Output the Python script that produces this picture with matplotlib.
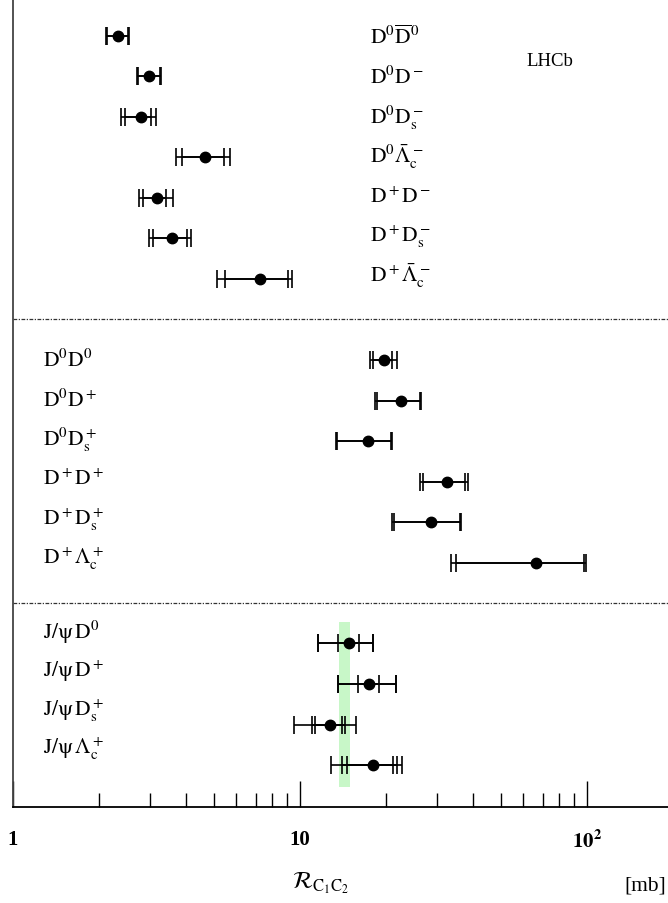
import matplotlib
matplotlib.use("Agg")
import matplotlib.pyplot as plt
import matplotlib.transforms as mtransforms
import numpy as np

plt.rcParams['font.family'] = ['Liberation Serif', 'DejaVu Serif']
plt.rcParams['mathtext.fontset'] = 'stix'

# ---------------- data ----------------
# section 1 : C1 C2-bar pairs
top_labels = [r'$\mathrm{D^0\overline{D}^0}$', r'$\mathrm{D^0D^-}$', r'$\mathrm{D^0D_s^-}$',
              r'$\mathrm{D^0\bar{\Lambda}_c^-}$', r'$\mathrm{D^+D^-}$', r'$\mathrm{D^+D_s^-}$',
              r'$\mathrm{D^+\bar{\Lambda}_c^-}$']
top_val = [2.32, 2.98, 2.79, 4.68, 3.18, 3.57, 7.26]
top_in_lo = [2.13, 2.72, 2.45, 3.88, 2.84, 3.07, 5.47]
top_in_hi = [2.52, 3.25, 3.02, 5.44, 3.40, 4.05, 9.10]
top_out_lo = [2.11, 2.71, 2.38, 3.70, 2.75, 2.97, 5.15]
top_out_hi = [2.54, 3.27, 3.14, 5.70, 3.61, 4.18, 9.40]

# section 2 : C1 C2 pairs
mid_labels = [r'$\mathrm{D^0D^0}$', r'$\mathrm{D^0D^+}$', r'$\mathrm{D^0D_s^+}$',
              r'$\mathrm{D^+D^+}$', r'$\mathrm{D^+D_s^+}$', r'$\mathrm{D^+\Lambda_c^+}$']
mid_val = [19.6, 22.4, 17.3, 32.5, 28.7, 66.4]
mid_in_lo = [17.9, 18.6, 13.5, 26.9, 21.3, 34.9]
mid_in_hi = [20.9, 26.2, 20.8, 37.6, 36.1, 98.0]
mid_out_lo = [17.5, 18.2, 13.3, 26.2, 20.9, 33.5]
mid_out_hi = [21.8, 26.4, 21.0, 38.6, 36.4, 99.3]

# section 3 : J/psi C pairs
bot_labels = [r'$\mathrm{J/\psi\,D^0}$', r'$\mathrm{J/\psi\,D^+}$', r'$\mathrm{J/\psi\,D_s^+}$',
              r'$\mathrm{J/\psi\,\Lambda_c^+}$']
bot_val = [14.8, 17.4, 12.7, 17.9]
bot_in_lo = [13.6, 15.97, 11.28, 14.62]
bot_in_hi = [16.0, 18.85, 13.97, 21.1]
bot_mid_lo = [11.55, 13.6, 11.04, 14.04]
bot_mid_hi = [17.96, 21.55, 14.31, 21.7]
bot_out_lo = [11.55, 13.6, 9.55, 12.85]
bot_out_hi = [17.96, 21.55, 15.71, 22.6]

band_lo, band_hi = 13.67, 14.94

# ---------------- figure ----------------
W, H = 668, 904
fig = plt.figure(figsize=(W / 100, H / 100), dpi=100)
ax_left, ax_bottom = 13, 808
ax = fig.add_axes([ax_left / W, (H - ax_bottom) / H, (W - ax_left) / W, ax_bottom / H])
ax.set_xscale('log')
ax.set_xlim(1, 10 ** ((W - ax_left) / 287.0))
ax.set_ylim(ax_bottom, 0)  # layout rows in pixel-like units


def draw_section(vals, levels, y0, dy):
    y = y0 + dy * np.arange(len(vals))
    vals = np.array(vals)
    for lo, hi in levels:
        err = [vals - np.array(lo), np.array(hi) - vals]
        ax.errorbar(vals, y, xerr=err, fmt='none', ecolor='black', elinewidth=1.2,
                    capsize=6.5, capthick=1.2, zorder=3)
    ax.plot(vals, y, 'o', color='black', ms=7.5, zorder=4)


draw_section(top_val, [(top_out_lo, top_out_hi), (top_in_lo, top_in_hi)], 36.7, 40.5)
draw_section(mid_val, [(mid_out_lo, mid_out_hi), (mid_in_lo, mid_in_hi)], 361, 40.5)
ax.fill_betweenx([623, 788], band_lo, band_hi, color='#c8f7c8', lw=0, zorder=1)
draw_section(bot_val, [(bot_out_lo, bot_out_hi), (bot_mid_lo, bot_mid_hi), (bot_in_lo, bot_in_hi)],
             644, 40.8)

# labels
trans = mtransforms.blended_transform_factory(ax.transAxes, ax.transData)
for i, lab in enumerate(top_labels):
    ax.text((370 - ax_left) / (W - ax_left), 37 + 39.7 * i + 7, lab, transform=trans,
            fontsize=15.5, va='baseline', ha='left')
for i, lab in enumerate(mid_labels):
    ax.text((43 - ax_left) / (W - ax_left), 360 + 39.5 * i + 7, lab, transform=trans,
            fontsize=15.5, va='baseline', ha='left')
for i, lab in enumerate(bot_labels):
    ax.text((43 - ax_left) / (W - ax_left), 632 + 38.5 * i + 7, lab, transform=trans,
            fontsize=15.5, va='baseline', ha='left')

ax.text((526 - ax_left) / (W - ax_left), 62, 'LHCb', transform=trans, fontsize=13.5,
        va='center', ha='left')

# separators
for ys in [320, 604]:
    ax.axhline(ys, color='#333333', lw=0.9, ls=(0, (3, 1.2, 1, 1.2)), zorder=2)

# axes styling
for s in ['top', 'right']:
    ax.spines[s].set_visible(False)
ax.spines['left'].set_linewidth(1.3)
ax.spines['left'].set_color('#444444')
ax.spines['bottom'].set_linewidth(1.3)
ax.set_yticks([])
ax.set_xticks([1, 10, 100])
ax.set_xticklabels(['1', '10', r'$\mathbf{10^2}$'], fontsize=15, fontweight='bold')
ax.tick_params(axis='x', which='major', direction='in', length=19, width=1.0, pad=16)
ax.tick_params(axis='x', which='minor', direction='in', length=10, width=1.0)

fig.text(292 / W, 1 - 883 / H, r'$\mathcal{R}_{\mathrm{C_1C_2}}$', fontsize=17, va='center', ha='left')
fig.text(624 / W, 1 - 886 / H, '[mb]', fontsize=15.5, va='center', ha='left')

fig.savefig('out.png', dpi=100)
